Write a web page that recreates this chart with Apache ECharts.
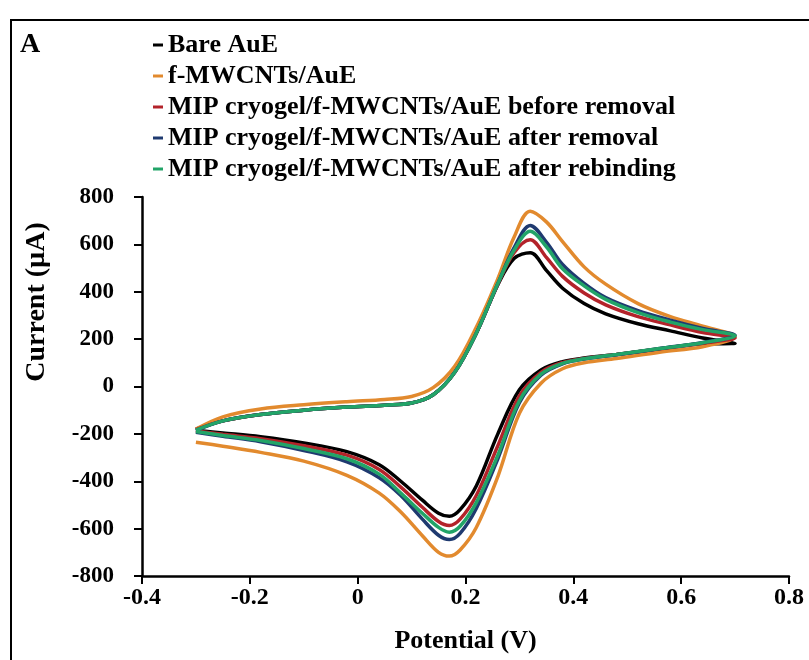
<!DOCTYPE html>
<html>
<head>
    <meta charset="utf-8">
    <title>CV</title>
    <script type="text/javascript" src="https://cdn.jsdelivr.net/npm/echarts@6/dist/echarts.min.js"></script>
    <style>
        body { margin: 0; background: #fff; }
        #cv { width: 809px; height: 660px; }
    </style>
</head>
<body>
<div id="cv"></div>

<script type="text/javascript">
    // potentials (V) of the forward and reverse scans
    var fwdPotential = [-0.30, -0.25, -0.18, -0.10, -0.02, 0.05, 0.10, 0.14, 0.18, 0.22, 0.26, 0.29, 0.32, 0.35, 0.38, 0.42, 0.46, 0.52, 0.58, 0.64, 0.70];
    var revPotential = [0.70, 0.64, 0.56, 0.48, 0.42, 0.38, 0.34, 0.30, 0.26, 0.22, 0.19, 0.17, 0.15, 0.12, 0.08, 0.04, -0.02, -0.10, -0.18, -0.25, -0.30];

    // currents (uA)
    var bareFwd   = [-180, -145, -118, -100, -87, -79, -70, -35, 60, 225, 430, 540, 565, 490, 415, 350, 307, 265, 235, 205, 182];
    var bareRev   = [182, 180, 158, 135, 120, 105, 70, -14, -200, -420, -520, -548, -535, -480, -400, -330, -275, -238, -212, -196, -185];
    var mwcntFwd  = [-180, -128, -95, -77, -64, -55, -42, -5, 85, 250, 455, 630, 740, 695, 612, 505, 432, 350, 295, 255, 210];
    var mwcntRev  = [210, 168, 145, 118, 100, 75, 14, -113, -380, -595, -690, -716, -700, -630, -530, -450, -375, -315, -278, -252, -235];
    var beforeFwd = [-182, -145, -118, -100, -87, -79, -70, -35, 60, 225, 432, 565, 620, 545, 465, 395, 345, 295, 260, 228, 205];
    var beforeRev = [205, 183, 159, 135, 118, 101, 60, -40, -250, -460, -560, -587, -570, -510, -425, -350, -290, -250, -220, -202, -188];
    var afterFwd  = [-186, -145, -118, -100, -87, -79, -70, -35, 60, 225, 435, 585, 680, 610, 515, 435, 375, 320, 280, 245, 216];
    var afterRev  = [216, 186, 160, 134, 116, 96, 48, -68, -305, -515, -620, -646, -628, -560, -460, -385, -318, -270, -233, -210, -193];
    var rebindFwd = [-184, -145, -118, -100, -87, -79, -70, -35, 60, 225, 435, 575, 655, 590, 497, 425, 368, 312, 272, 240, 214];
    var rebindRev = [214, 185, 160, 135, 117, 98, 52, -60, -290, -490, -590, -615, -595, -535, -450, -370, -305, -262, -228, -207, -190];

    var names = ['Bare AuE', 'f-MWCNTs/AuE', 'MIP cryogel/f-MWCNTs/AuE before removal',
        'MIP cryogel/f-MWCNTs/AuE after removal', 'MIP cryogel/f-MWCNTs/AuE after rebinding'];
    var colors = ['#000000', '#E28A2E', '#B3232A', '#1F3A70', '#22A468'];

    function loop(fwd, rev) {
        var pts = [];
        for (var i = 0; i < fwdPotential.length; i++) pts.push([fwdPotential[i], fwd[i]]);
        for (var j = 0; j < revPotential.length; j++) pts.push([revPotential[j], rev[j]]);
        return pts;
    }

    var curves = [loop(bareFwd, bareRev), loop(mwcntFwd, mwcntRev), loop(beforeFwd, beforeRev),
        loop(afterFwd, afterRev), loop(rebindFwd, rebindRev)];

    var serifFont = '"Liberation Serif", "Times New Roman", serif';

    var series = [];
    for (var k = 0; k < names.length; k++) {
        series.push({
            name: names[k],
            type: 'line',
            data: curves[k],
            smooth: 0.35,
            showSymbol: false,
            lineStyle: { color: colors[k], width: 3.5 },
            itemStyle: { color: colors[k] }
        });
    }

    var myChart = echarts.init(document.getElementById('cv'));
    var option = {
        animation: false,
        backgroundColor: '#fff',
        legend: {
            orient: 'vertical',
            left: 148,
            top: 27,
            itemWidth: 10,
            itemHeight: 3,
            itemGap: 5,
            icon: 'rect',
            data: names,
            textStyle: { fontFamily: serifFont, fontWeight: 'bold', fontSize: 26, lineHeight: 26, color: '#000' }
        },
        grid: { left: 142, right: 20, top: 197, bottom: 84 },
        xAxis: {
            type: 'value',
            min: -0.4,
            max: 0.8,
            interval: 0.2,
            name: 'Potential (V)',
            nameLocation: 'middle',
            nameGap: 52,
            nameTextStyle: { fontFamily: serifFont, fontWeight: 'bold', fontSize: 26, color: '#000' },
            axisLine: { onZero: false, lineStyle: { color: '#000', width: 2.5 } },
            axisTick: { inside: false, length: 8, lineStyle: { width: 2 } },
            axisLabel: { margin: 10, fontFamily: serifFont, fontWeight: 'bold', fontSize: 24, color: '#000' },
            splitLine: { show: false }
        },
        yAxis: {
            type: 'value',
            min: -800,
            max: 800,
            interval: 200,
            axisLine: { show: true, onZero: false, lineStyle: { color: '#000', width: 2.5 } },
            axisTick: { show: true, inside: false, length: 8, lineStyle: { width: 2 } },
            axisLabel: { margin: 28, fontFamily: serifFont, fontWeight: 'bold', fontSize: 23, color: '#000' },
            splitLine: { show: false }
        },
        graphic: [
            {
                type: 'rect',
                shape: { x: 11, y: 20, width: 800, height: 660 },
                style: { fill: 'none', stroke: '#000', lineWidth: 2 },
                silent: true
            },
            {
                type: 'text',
                x: 30, y: 45,
                style: { text: 'A', font: 'bold 28px ' + serifFont, fill: '#000', textAlign: 'center', textVerticalAlign: 'middle' }
            },
            {
                type: 'text',
                x: 37, y: 302,
                rotation: Math.PI / 2,
                style: { text: 'Current (µA)', font: 'bold 28px ' + serifFont, fill: '#000', textAlign: 'center', textVerticalAlign: 'middle' }
            }
        ],
        series: series
    };
    myChart.setOption(option);
</script>
</body>
</html>
